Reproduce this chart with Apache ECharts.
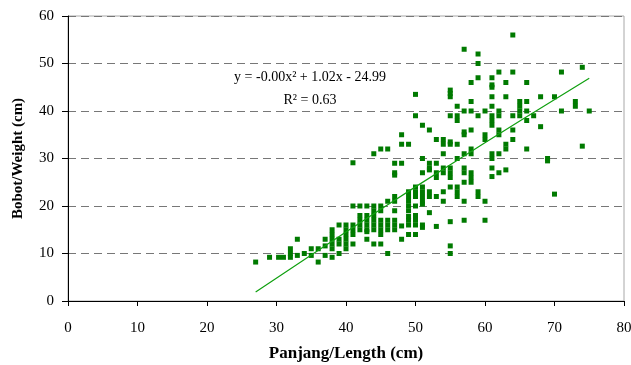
<!DOCTYPE html>
<html>
<head>
<meta charset="utf-8">
<script src="https://cdn.jsdelivr.net/npm/echarts@6/dist/echarts.min.js"></script>
<style>
  html, body { margin: 0; padding: 0; background: #fff; }
  #main { width: 631px; height: 365px; }
</style>
</head>
<body>
<div id="main"></div>
<script>
var chart = echarts.init(document.getElementById('main'));

// length (cm) columns and the weights observed at each length
var lengthCols = [27, 29, 30.3, 31, 32, 33, 34, 35, 36, 37, 38, 39, 40, 41, 42, 43, 44, 45, 46, 47,
    48, 49, 50, 51, 52, 53, 54, 55, 56, 57, 58, 59, 60, 61, 62, 63, 64, 65, 66, 67,
    68, 69, 70, 71, 73, 74, 75];
var weightsAt = [
    [8.2], [9.2], [9.2], [9.2], [11, 10, 9.2], [13, 9.6], [10], [11, 9.6], [11, 8.2],
    [13, 11.6, 9.6],
    [15, 14, 13, 12, 11, 9.2],
    [16, 13, 12, 10],
    [16, 15, 14, 13, 12, 11],
    [29.1, 20, 16, 15, 14, 12],
    [20, 18, 17, 16, 15],
    [20, 18, 17, 16, 15, 14.6, 13],
    [31, 20, 19, 18, 17, 16, 15, 12],
    [32, 20, 19, 17, 16, 15, 14, 12],
    [32, 21, 17, 16, 15, 10],
    [29, 27, 26.5, 22, 21, 19, 17, 16, 15],
    [35, 33, 29, 15.8, 13],
    [33, 23, 22, 21, 20, 19, 17.8, 17, 16, 14],
    [43.5, 39, 24, 23, 22, 20, 18, 17, 16, 14],
    [37, 30, 27, 24, 23, 22, 21, 20.4, 16, 15.5],
    [36, 29, 28, 27.6, 23, 22, 18.6],
    [34, 29, 27, 26, 22, 15.7],
    [34, 33, 31, 28, 27, 23, 21],
    [44.4, 43.7, 43, 39, 33.5, 33, 28, 27, 26, 24, 16.7, 11.6, 10],
    [41, 39, 38, 33, 30, 24, 23, 22],
    [53, 40, 35.6, 35, 31, 28, 27, 25, 21, 17],
    [46, 42, 40, 36, 32, 31, 27, 26, 25],
    [52, 50, 47, 39, 23, 22],
    [40, 35, 34, 21, 17],
    [47, 45.5, 45, 43, 41, 39, 38, 37, 31, 30, 28, 26.2],
    [48.2, 40, 39, 36, 35, 31, 27],
    [46, 43, 33, 32, 27.6],
    [56, 48.2, 39, 36, 34],
    [42, 41, 40, 39],
    [46, 42, 40, 38, 32],
    [39],
    [43, 36.7],
    [30, 29.5],
    [43, 22.5],
    [48.2, 40],
    [42, 41],
    [49.2, 32.6],
    [40]
];

// trend line
var trendX = [27, 35, 45, 55, 65, 75];
var trendY = [1.9, 9.7, 19.3, 28.7, 37.9, 46.9];

var xTicks = [0, 10, 20, 30, 40, 50, 60, 70, 80];
var yTicks = [0, 10, 20, 30, 40, 50, 60];

var points = [];
lengthCols.forEach(function (len, i) {
    weightsAt[i].forEach(function (w) {
        points.push([len, w]);
    });
});
var trend = trendX.map(function (x, i) { return [x, trendY[i]]; });

var serif = 'Liberation Serif';

var option = {
    animation: false,
    backgroundColor: '#fff',
    textStyle: { fontFamily: serif },
    grid: {
        left: 68, right: 7, top: 16, bottom: 64,
        outerBoundsMode: 'none',
        containLabel: false,
        show: true,
        borderColor: '#a8a8a8',
        borderWidth: 1
    },
    xAxis: {
        type: 'value',
        min: xTicks[0],
        max: xTicks[xTicks.length - 1],
        interval: 10,
        name: 'Panjang/Length (cm)',
        nameLocation: 'middle',
        nameGap: 44,
        nameTextStyle: { fontFamily: serif, fontWeight: 'bold', fontSize: 17, color: '#000' },
        axisLine: { lineStyle: { color: '#000', width: 1 } },
        axisTick: { show: true, length: 5, lineStyle: { color: '#000' } },
        axisLabel: { fontFamily: serif, fontSize: 15, color: '#000', margin: 20 },
        splitLine: { show: false }
    },
    yAxis: {
        type: 'value',
        min: yTicks[0],
        max: yTicks[yTicks.length - 1],
        interval: 10,
        name: 'Bobot/Weight (cm)',
        nameLocation: 'middle',
        nameGap: 42,
        nameTextStyle: { fontFamily: serif, fontWeight: 'bold', fontSize: 15, color: '#000' },
        axisLine: { show: true, lineStyle: { color: '#000', width: 1 } },
        axisTick: { show: true, length: 6, lineStyle: { color: '#000' } },
        axisLabel: { fontFamily: serif, fontSize: 15, color: '#000', margin: 14 },
        splitLine: {
            show: true,
            lineStyle: { color: '#777', type: [8, 5], width: 1.2 }
        }
    },
    series: [
        {
            type: 'scatter',
            data: points,
            symbol: 'rect',
            symbolSize: 5,
            itemStyle: { color: '#007a00', opacity: 1 },
            z: 3
        },
        {
            type: 'line',
            data: trend,
            smooth: true,
            showSymbol: false,
            symbol: 'none',
            lineStyle: { color: '#10a010', width: 1.2 },
            z: 4
        }
    ],
    graphic: [
        {
            type: 'text',
            x: 310, y: 77,
            style: {
                text: 'y = -0.00x² + 1.02x - 24.99',
                font: '14px "Liberation Serif"',
                fill: '#000',
                align: 'center',
                verticalAlign: 'middle'
            }
        },
        {
            type: 'text',
            x: 310, y: 100,
            style: {
                text: 'R² = 0.63',
                font: '14px "Liberation Serif"',
                fill: '#000',
                align: 'center',
                verticalAlign: 'middle'
            }
        }
    ]
};

chart.setOption(option);
</script>
</body>
</html>
